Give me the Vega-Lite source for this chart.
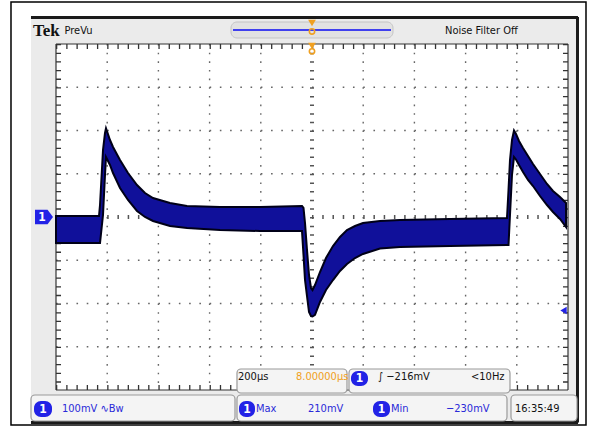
{
 "$schema": "https://vega.github.io/schema/vega-lite/v6.json",
 "width": 512, "height": 346,
 "autosize": {"type": "none"},
 "padding": {"left": 56, "top": 44, "right": 22, "bottom": 37},
 "background": "white",
 "config": {"view": {"stroke": null}},
 "datasets": {
  "wave": [
   {"t": -1000, "hi": 2.3, "lo": -60.1},
   {"t": -832, "hi": 2.3, "lo": -60.1},
   {"t": -828.1, "hi": 27.7, "lo": -60.1},
   {"t": -816.4, "hi": 154.9, "lo": 4.6},
   {"t": -808.6, "hi": 194.2, "lo": 97.1},
   {"t": -804.7, "hi": 205, "lo": 138.7},
   {"t": -789.1, "hi": 178.0, "lo": 120.2},
   {"t": -777.3, "hi": 161.9, "lo": 101.7},
   {"t": -750, "hi": 131.8, "lo": 67.1},
   {"t": -718.75, "hi": 101.7, "lo": 39.3},
   {"t": -683.6, "hi": 74.0, "lo": 13.9},
   {"t": -652.3, "hi": 55.5, "lo": 0},
   {"t": -621.1, "hi": 43.9, "lo": -9.2},
   {"t": -554.7, "hi": 32.4, "lo": -20.8},
   {"t": -488.3, "hi": 25.4, "lo": -25.4},
   {"t": -359.4, "hi": 23.1, "lo": -30.1},
   {"t": -203.1, "hi": 23.1, "lo": -32.4},
   {"t": -39.1, "hi": 25.4, "lo": -32.4},
   {"t": -33.2, "hi": 20.8, "lo": -87.9},
   {"t": -27.3, "hi": -13.9, "lo": -145.7},
   {"t": -19.5, "hi": -76.3, "lo": -182.7},
   {"t": -11.7, "hi": -134.1, "lo": -219.7},
   {"t": -3.9, "hi": -164.2, "lo": -229},
   {"t": 2.0, "hi": -168.8, "lo": -230},
   {"t": 11.7, "hi": -157.2, "lo": -226},
   {"t": 31.25, "hi": -127.2, "lo": -196.5},
   {"t": 54.7, "hi": -94.8, "lo": -168.8},
   {"t": 82.0, "hi": -67.1, "lo": -145.7},
   {"t": 109.4, "hi": -46.2, "lo": -124.8},
   {"t": 136.7, "hi": -30.1, "lo": -108.7},
   {"t": 168.0, "hi": -20.8, "lo": -94.8},
   {"t": 199.2, "hi": -13.9, "lo": -85.5},
   {"t": 265.6, "hi": -9.2, "lo": -73.0},
   {"t": 343.75, "hi": -6.9, "lo": -69.4},
   {"t": 539.1, "hi": -4.6, "lo": -67.1},
   {"t": 761.7, "hi": -2.3, "lo": -64.7},
   {"t": 767.6, "hi": 62.4, "lo": -64.7},
   {"t": 773.4, "hi": 131.8, "lo": 4.6},
   {"t": 781.25, "hi": 178.0, "lo": 97.1},
   {"t": 789.1, "hi": 200, "lo": 138.7},
   {"t": 796.9, "hi": 191.9, "lo": 133.0},
   {"t": 808.6, "hi": 175.7, "lo": 120.2},
   {"t": 824.2, "hi": 159.5, "lo": 104.0},
   {"t": 843.75, "hi": 141.0, "lo": 85.6},
   {"t": 863.3, "hi": 122.5, "lo": 71.7},
   {"t": 890.6, "hi": 99.4, "lo": 48.5},
   {"t": 918.0, "hi": 76.3, "lo": 27.7},
   {"t": 941.4, "hi": 60.1, "lo": 11.6},
   {"t": 968.75, "hi": 46.3, "lo": -4.6},
   {"t": 992.2, "hi": 32.4, "lo": -23.1}
  ]
 },
 "layer": [
  {"data": {"values": [{"x1": -1175.8, "x2": 1070.3, "y1": 497.1, "y2": -480.9}]},
   "mark": {"type": "rect", "fill": "white", "stroke": "black", "strokeWidth": 1.5},
   "encoding": {"x": {"field": "x1", "type": "quantitative", "scale": {"domain": [-1000, 1000], "nice": false, "zero": false}, "axis": null}, "x2": {"field": "x2"},
    "y": {"field": "y1", "type": "quantitative", "scale": {"domain": [-400, 400], "nice": false, "zero": false}, "axis": null}, "y2": {"field": "y2"}}},
  {"data": {"values": [{"x1": -1097.7, "x2": 1039.1, "y1": 462.4, "y2": -474.0}]},
   "mark": {"type": "rect", "fill": "#ebebeb"},
   "encoding": {"x": {"field": "x1", "type": "quantitative", "axis": null}, "x2": {"field": "x2"}, "y": {"field": "y1", "type": "quantitative", "axis": null}, "y2": {"field": "y2"}}},
  {"data": {"values": [
    {"x1": -1097.7, "x2": 1039.1, "y1": 461.3, "y2": 461.3},
    {"x1": 1037.1, "x2": 1037.1, "y1": 462.4, "y2": -475.1},
    {"x1": -1097.7, "x2": 1039.1, "y1": -475.1, "y2": -475.1}]},
   "mark": {"type": "rule", "color": "#1a1a1a", "strokeWidth": 3},
   "encoding": {"x": {"field": "x1", "type": "quantitative", "axis": null}, "x2": {"field": "x2"}, "y": {"field": "y1", "type": "quantitative", "axis": null}, "y2": {"field": "y2"}}},
  {"data": {"values": [{"x1": -1000, "x2": 1000, "y1": 400, "y2": -400}]},
   "mark": {"type": "rect", "fill": "white"},
   "encoding": {"x": {"field": "x1", "type": "quantitative", "axis": null}, "x2": {"field": "x2"}, "y": {"field": "y1", "type": "quantitative", "axis": null}, "y2": {"field": "y2"}}},
  {"data": {"values": [
    {"x1": -800, "x2": -800, "y1": 400, "y2": -400}, {"x1": -600, "x2": -600, "y1": 400, "y2": -400},
    {"x1": -400, "x2": -400, "y1": 400, "y2": -400}, {"x1": -200, "x2": -200, "y1": 400, "y2": -400},
    {"x1": 200, "x2": 200, "y1": 400, "y2": -400}, {"x1": 400, "x2": 400, "y1": 400, "y2": -400},
    {"x1": 600, "x2": 600, "y1": 400, "y2": -400}, {"x1": 800, "x2": 800, "y1": 400, "y2": -400}]},
   "mark": {"type": "rule", "color": "#666666", "strokeWidth": 1.4, "strokeDash": [1.6, 7.05]},
   "encoding": {"x": {"field": "x1", "type": "quantitative", "axis": null}, "x2": {"field": "x2"}, "y": {"field": "y1", "type": "quantitative", "axis": null}, "y2": {"field": "y2"}}},
  {"data": {"values": [
    {"x1": -1000, "x2": 1000, "y1": -300, "y2": -300}, {"x1": -1000, "x2": 1000, "y1": -200, "y2": -200},
    {"x1": -1000, "x2": 1000, "y1": -100, "y2": -100}, {"x1": -1000, "x2": 1000, "y1": 100, "y2": 100},
    {"x1": -1000, "x2": 1000, "y1": 200, "y2": 200}, {"x1": -1000, "x2": 1000, "y1": 300, "y2": 300}]},
   "mark": {"type": "rule", "color": "#666666", "strokeWidth": 1.4, "strokeDash": [1.6, 8.64]},
   "encoding": {"x": {"field": "x1", "type": "quantitative", "axis": null}, "x2": {"field": "x2"}, "y": {"field": "y1", "type": "quantitative", "axis": null}, "y2": {"field": "y2"}}},
  {"data": {"values": [{"x1": 0, "x2": 0, "y1": 400, "y2": -400}]},
   "mark": {"type": "rule", "color": "#555555", "strokeWidth": 4, "strokeDash": [1.5, 7.15]},
   "encoding": {"x": {"field": "x1", "type": "quantitative", "axis": null}, "x2": {"field": "x2"}, "y": {"field": "y1", "type": "quantitative", "axis": null}, "y2": {"field": "y2"}}},
  {"data": {"values": [{"x1": -1000, "x2": 1000, "y1": 0, "y2": 0}]},
   "mark": {"type": "rule", "color": "#555555", "strokeWidth": 4, "strokeDash": [1.5, 8.74]},
   "encoding": {"x": {"field": "x1", "type": "quantitative", "axis": null}, "x2": {"field": "x2"}, "y": {"field": "y1", "type": "quantitative", "axis": null}, "y2": {"field": "y2"}}},
  {"data": {"values": [
    {"x1": -1000, "x2": 1000, "y1": 400, "y2": 400},
    {"x1": -1000, "x2": 1000, "y1": -400, "y2": -400},
    {"x1": -1000, "x2": -1000, "y1": 400, "y2": -400},
    {"x1": 1000, "x2": 1000, "y1": 400, "y2": -400}]},
   "mark": {"type": "rule", "color": "#333333", "strokeWidth": 1.2},
   "encoding": {"x": {"field": "x1", "type": "quantitative", "axis": null}, "x2": {"field": "x2"}, "y": {"field": "y1", "type": "quantitative", "axis": null}, "y2": {"field": "y2"}}},
  {"data": {"values": [
    {"x1": -1000, "x2": 1000, "y1": 394.2, "y2": 394.2},
    {"x1": -1000, "x2": 1000, "y1": -394.2, "y2": -394.2}]},
   "mark": {"type": "rule", "color": "#333333", "strokeWidth": 5, "strokeDash": [1.3, 8.94]},
   "encoding": {"x": {"field": "x1", "type": "quantitative", "axis": null}, "x2": {"field": "x2"}, "y": {"field": "y1", "type": "quantitative", "axis": null}, "y2": {"field": "y2"}}},
  {"data": {"values": [
    {"x1": -990.2, "x2": -990.2, "y1": 400, "y2": -400},
    {"x1": 990.2, "x2": 990.2, "y1": 400, "y2": -400}]},
   "mark": {"type": "rule", "color": "#333333", "strokeWidth": 5, "strokeDash": [1.3, 7.35]},
   "encoding": {"x": {"field": "x1", "type": "quantitative", "axis": null}, "x2": {"field": "x2"}, "y": {"field": "y1", "type": "quantitative", "axis": null}, "y2": {"field": "y2"}}},
  {"data": {"name": "wave"},
   "mark": {"type": "area", "fill": "#10109a", "stroke": "#000018", "strokeWidth": 2, "opacity": 1},
   "encoding": {"x": {"field": "t", "type": "quantitative", "axis": null}, "y": {"field": "hi", "type": "quantitative", "axis": null}, "y2": {"field": "lo"}}},
  {"data": {"values": [{"x1": -316.4, "x2": 316.4, "y1": 450.9, "y2": 413.9}]},
   "mark": {"type": "rect", "fill": "#e2e2e2", "stroke": "#c4c4c4", "strokeWidth": 1, "cornerRadius": 6},
   "encoding": {"x": {"field": "x1", "type": "quantitative", "axis": null}, "x2": {"field": "x2"}, "y": {"field": "y1", "type": "quantitative", "axis": null}, "y2": {"field": "y2"}}},
  {"data": {"values": [{"x1": -308.6, "x2": 308.6, "y1": 432.4, "y2": 432.4}]},
   "mark": {"type": "rule", "color": "#4040ee", "strokeWidth": 2},
   "encoding": {"x": {"field": "x1", "type": "quantitative", "axis": null}, "x2": {"field": "x2"}, "y": {"field": "y1", "type": "quantitative", "axis": null}, "y2": {"field": "y2"}}},
  {"data": {"values": [{"t": 0, "v": 448.6}, {"t": 0, "v": 395.4}]},
   "mark": {"type": "point", "shape": "triangle-down", "filled": true, "color": "#f0a020", "size": 60, "opacity": 1},
   "encoding": {"x": {"field": "t", "type": "quantitative", "axis": null}, "y": {"field": "v", "type": "quantitative", "axis": null}}},
  {"data": {"values": [{"t": 0, "v": 429}, {"t": 0, "v": 383}]},
   "mark": {"type": "point", "shape": "circle", "filled": false, "color": "#f0a020", "size": 28, "strokeWidth": 1.6, "opacity": 1},
   "encoding": {"x": {"field": "t", "type": "quantitative", "axis": null}, "y": {"field": "v", "type": "quantitative", "axis": null}}},
  {"data": {"values": [
    {"x1": -293.0, "x2": 136.7, "y1": -351.4, "y2": -406.9},
    {"x1": 144.5, "x2": 773.4, "y1": -351.4, "y2": -406.9},
    {"x1": -1097.7, "x2": -300.8, "y1": -411.6, "y2": -471.7},
    {"x1": -293.0, "x2": 761.7, "y1": -411.6, "y2": -471.7},
    {"x1": 777.3, "x2": 1035.2, "y1": -411.6, "y2": -471.7}]},
   "mark": {"type": "rect", "fill": "#f4f4f4", "stroke": "#9a9a9a", "strokeWidth": 1.2, "cornerRadius": 4},
   "encoding": {"x": {"field": "x1", "type": "quantitative", "axis": null}, "x2": {"field": "x2"}, "y": {"field": "y1", "type": "quantitative", "axis": null}, "y2": {"field": "y2"}}},
  {"data": {"values": [
    {"x1": 152.3, "x2": 218.75, "y1": -356.1, "y2": -390.7},
    {"x1": -1085.9, "x2": -1015.6, "y1": -425.4, "y2": -462.4},
    {"x1": -285.2, "x2": -222.7, "y1": -425.4, "y2": -462.4},
    {"x1": 238.3, "x2": 304.7, "y1": -425.4, "y2": -462.4}]},
   "mark": {"type": "rect", "fill": "#2222e6", "cornerRadius": 7},
   "encoding": {"x": {"field": "x1", "type": "quantitative", "axis": null}, "x2": {"field": "x2"}, "y": {"field": "y1", "type": "quantitative", "axis": null}, "y2": {"field": "y2"}}},
  {"data": {"values": [{"t": -1046.9, "v": 0}]},
   "mark": {"type": "point", "shape": "M-1,-0.8H0.4L1,0L0.4,0.8H-1Z", "filled": true, "color": "#2222e6", "size": 324, "opacity": 1},
   "encoding": {"x": {"field": "t", "type": "quantitative", "axis": null}, "y": {"field": "v", "type": "quantitative", "axis": null}}},
  {"data": {"values": [{"t": 982.4, "v": -216}]},
   "mark": {"type": "point", "shape": "triangle-left", "filled": true, "color": "#2222e6", "size": 55, "opacity": 1},
   "encoding": {"x": {"field": "t", "type": "quantitative", "axis": null}, "y": {"field": "v", "type": "quantitative", "axis": null}}},
  {"data": {"values": [{"t": -1089.8, "v": 430.1, "label": "Tek"}]},
   "mark": {"type": "text", "align": "left", "baseline": "middle", "font": "Liberation Serif", "fontWeight": "bold", "fontSize": 17, "color": "#111111"},
   "encoding": {"x": {"field": "t", "type": "quantitative", "axis": null}, "y": {"field": "v", "type": "quantitative", "axis": null}, "text": {"field": "label"}}},
  {"data": {"values": [
    {"t": -966.8, "v": 429, "label": "PreVu"},
    {"t": 519.5, "v": 429, "label": "Noise Filter Off"},
    {"t": -289.1, "v": -370, "label": "200µs"},
    {"t": 257.8, "v": -370, "label": "∫ −216mV"},
    {"t": 621.1, "v": -370, "label": "<10Hz"},
    {"t": 793.0, "v": -443.9, "label": "16:35:49"}]},
   "mark": {"type": "text", "align": "left", "baseline": "middle", "font": "DejaVu Sans Condensed, Liberation Sans Narrow, sans-serif", "fontSize": 11, "color": "#111111"},
   "encoding": {"x": {"field": "t", "type": "quantitative", "axis": null}, "y": {"field": "v", "type": "quantitative", "axis": null}, "text": {"field": "label"}}},
  {"data": {"values": [{"t": -62.5, "v": -370, "label": "8.00000µs"}]},
   "mark": {"type": "text", "align": "left", "baseline": "middle", "font": "DejaVu Sans Condensed, Liberation Sans Narrow, sans-serif", "fontSize": 11, "color": "#f0a020"},
   "encoding": {"x": {"field": "t", "type": "quantitative", "axis": null}, "y": {"field": "v", "type": "quantitative", "axis": null}, "text": {"field": "label"}}},
  {"data": {"values": [
    {"t": -976.6, "v": -443.9, "label": "100mV ∿Bw"},
    {"t": -218.75, "v": -443.9, "label": "Max"},
    {"t": -15.6, "v": -443.9, "label": "210mV"},
    {"t": 308.6, "v": -443.9, "label": "Min"},
    {"t": 523.4, "v": -443.9, "label": "−230mV"}]},
   "mark": {"type": "text", "align": "left", "baseline": "middle", "font": "DejaVu Sans Condensed, Liberation Sans Narrow, sans-serif", "fontSize": 11, "color": "#2a2ad8"},
   "encoding": {"x": {"field": "t", "type": "quantitative", "axis": null}, "y": {"field": "v", "type": "quantitative", "axis": null}, "text": {"field": "label"}}},
  {"data": {"values": [
    {"t": -1054.7, "v": 0, "label": "1"},
    {"t": 185.5, "v": -373.4, "label": "1"},
    {"t": -1050.8, "v": -443.9, "label": "1"},
    {"t": -253.9, "v": -443.9, "label": "1"},
    {"t": 271.5, "v": -443.9, "label": "1"}]},
   "mark": {"type": "text", "align": "center", "baseline": "middle", "font": "DejaVu Sans Condensed, Liberation Sans Narrow, sans-serif", "fontWeight": "bold", "fontSize": 12, "color": "white"},
   "encoding": {"x": {"field": "t", "type": "quantitative", "axis": null}, "y": {"field": "v", "type": "quantitative", "axis": null}, "text": {"field": "label"}}}
 ]
}
